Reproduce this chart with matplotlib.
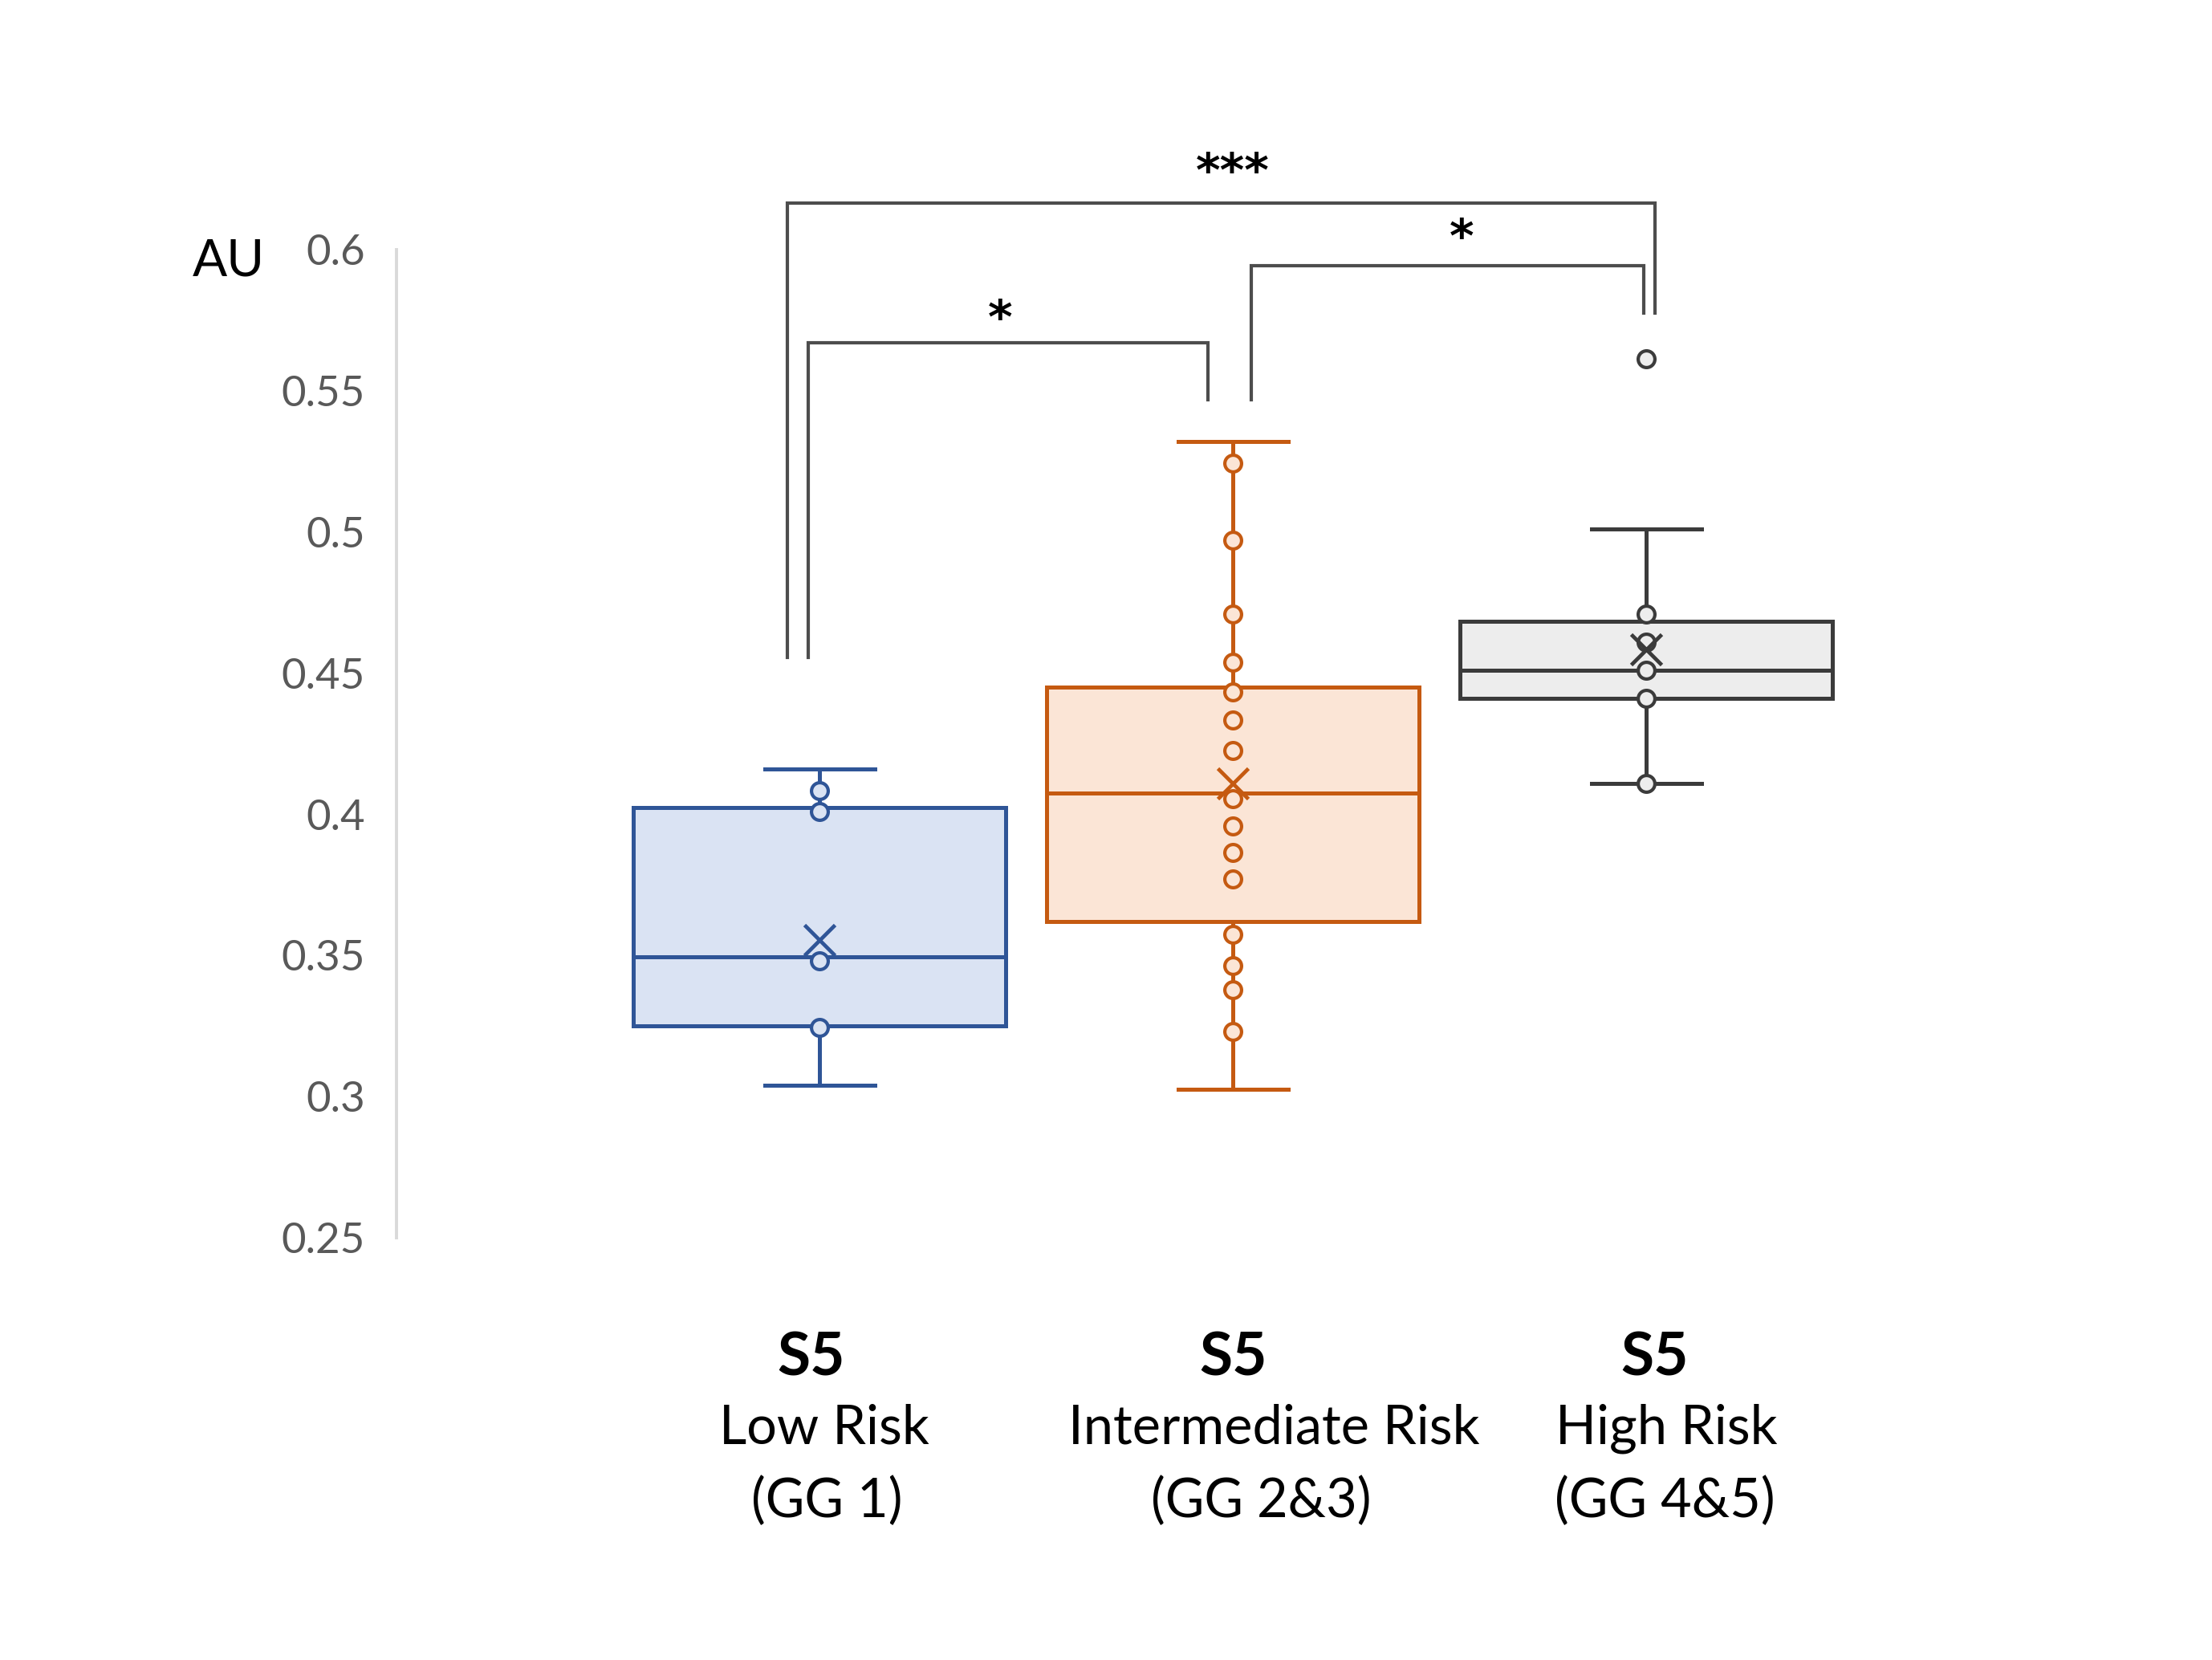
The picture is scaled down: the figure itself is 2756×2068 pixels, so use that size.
import matplotlib
matplotlib.use("Agg")
import matplotlib.pyplot as plt
from matplotlib.transforms import blended_transform_factory

# ---------------- data ----------------
group_prefix = "S5"
risk_labels = ["Low Risk", "Intermediate Risk", "High Risk"]
grade_labels = ["(GG 1)", "(GG 2&3)", "(GG 4&5)"]

q1 = [0.325, 0.362, 0.441]
medians = [0.3495, 0.4075, 0.451]
q3 = [0.4025, 0.445, 0.4685]
whisker_low = [0.304, 0.3025, 0.411]
whisker_high = [0.416, 0.532, 0.501]
means = [0.3555, 0.411, 0.4585]
outliers = [[], [], [0.5615]]

points_low = [0.4085, 0.401, 0.348, 0.3245]
points_int = [0.5245, 0.497, 0.471, 0.454, 0.4435, 0.4335, 0.4225, 0.4055,
              0.396, 0.3865, 0.377, 0.3575, 0.3465, 0.338, 0.323]
points_high = [0.471, 0.461, 0.451, 0.441, 0.411]

comparisons = [(0, 2, "***"), (0, 1, "*"), (1, 2, "*")]

y_ticks = [0.25, 0.3, 0.35, 0.4, 0.45, 0.5, 0.55, 0.6]
y_ticklabels = ["0.25", "0.3", "0.35", "0.4", "0.45", "0.5", "0.55", "0.6"]

# ---------------- style ----------------
edge_colors = ["#2F5597", "#C55A11", "#3B3B3B"]
fill_colors = ["#DAE3F3", "#FBE5D6", "#EDEDED"]
FONT = ["Lato", "DejaVu Sans"]

fig = plt.figure(figsize=(13.78, 10.34), dpi=200)
ax = fig.add_axes([0.1792, 0.2543, 0.6772, 0.5952])

positions = [0, 1, 2]
stats = []
for i in range(3):
    stats.append(dict(med=medians[i], q1=q1[i], q3=q3[i],
                      whislo=whisker_low[i], whishi=whisker_high[i],
                      mean=means[i], fliers=outliers[i]))

lw = 1.8
ms = 7.5
art = ax.bxp(stats, positions=positions, widths=0.90, capwidths=0.266,
             patch_artist=True, showmeans=True, showfliers=True,
             manage_ticks=False)
for i in range(3):
    ec, fc = edge_colors[i], fill_colors[i]
    b = art["boxes"][i]
    b.set_facecolor(fc); b.set_edgecolor(ec); b.set_linewidth(lw); b.set_zorder(2)
    for w in art["whiskers"][2*i:2*i+2]:
        w.set_color(ec); w.set_linewidth(lw); w.set_zorder(1)
    for c in art["caps"][2*i:2*i+2]:
        c.set_color(ec); c.set_linewidth(lw); c.set_zorder(1)
    m = art["medians"][i]
    m.set_color(ec); m.set_linewidth(lw); m.set_zorder(3)
    mn = art["means"][i]
    mn.set_marker("x"); mn.set_markersize(14); mn.set_markeredgecolor(ec)
    mn.set_markeredgewidth(1.7); mn.set_zorder(5)
    f = art["fliers"][i]
    f.set_marker("o"); f.set_markersize(ms); f.set_markerfacecolor(fc)
    f.set_markeredgecolor(ec); f.set_markeredgewidth(1.5); f.set_zorder(4)

for i, pts in enumerate([points_low, points_int, points_high]):
    ax.plot([positions[i]] * len(pts), pts, linestyle="none", marker="o",
            markersize=ms, markerfacecolor=fill_colors[i],
            markeredgecolor=edge_colors[i], markeredgewidth=1.5, zorder=4)

ax.set_xlim(-1.024, 2.6)
ax.set_ylim(0.25, 0.6)
ax.set_yticks(y_ticks)
ax.set_yticklabels(y_ticklabels, fontfamily=FONT, fontsize=19, color="#595959")
ax.tick_params(axis="y", length=0, pad=14)
ax.set_xticks([])
for s in ["top", "right", "bottom"]:
    ax.spines[s].set_visible(False)
ax.spines["left"].set_color("#D9D9D9")
ax.spines["left"].set_linewidth(1.4)

fig.text(0.1033, 0.8427, "AU", fontfamily=FONT, fontsize=23, color="black",
         ha="center", va="center")

# significance brackets (layout in data coords)
br_color = "#4D4D4D"
br_lw = 1.5
bracket_layout = {
    (0, 2): dict(x0=-0.0785, x1=2.020, top=0.6165, y0=0.4555, y1=0.5775, tx=1.0, ty=0.629),
    (0, 1): dict(x0=-0.027, x1=0.9386, top=0.567, y0=0.4555, y1=0.547, tx=0.437, ty=0.577),
    (1, 2): dict(x0=1.044, x1=1.993, top=0.5945, y0=0.547, y1=0.5775, tx=1.553, ty=0.6055),
}
for a, b, lab in comparisons:
    L = bracket_layout[(a, b)]
    ax.plot([L["x0"], L["x0"], L["x1"], L["x1"]],
            [L["y0"], L["top"], L["top"], L["y1"]],
            color=br_color, lw=br_lw, clip_on=False, solid_joinstyle="miter",
            zorder=1)
    ax.text(L["tx"], L["ty"], lab, fontfamily="DejaVu Sans", fontweight="bold",
            fontsize=21, ha="center", va="center_baseline", color="black",
            clip_on=False)

# category labels
tr = blended_transform_factory(ax.transData, fig.transFigure)
line_dx = [[-0.02, 0.0, 0.02], [0.01, 0.10, 0.048], [0.017, 0.068, 0.044]]
for i in range(3):
    ax.text(positions[i] + line_dx[0][i], 0.1820, group_prefix, transform=tr,
            fontfamily=FONT, fontsize=27, fontweight="bold", ha="center",
            va="center", color="black")
    ax.text(positions[i] + line_dx[1][i], 0.1395, risk_labels[i], transform=tr,
            fontfamily=FONT, fontsize=24, ha="center", va="center", color="black")
    ax.text(positions[i] + line_dx[2][i], 0.0952, grade_labels[i], transform=tr,
            fontfamily=FONT, fontsize=24, ha="center", va="center", color="black")

fig.savefig("out.png", dpi=200, facecolor="white")
